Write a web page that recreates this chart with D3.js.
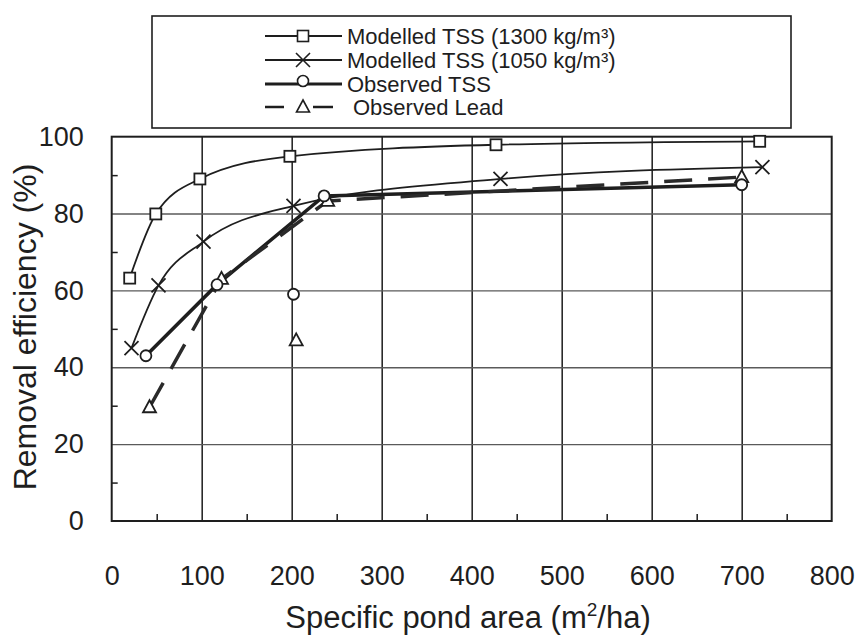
<!DOCTYPE html>
<html>
<head>
<meta charset="utf-8">
<script src="https://cdn.jsdelivr.net/npm/d3@7"></script>
<style>
    body { margin: 0; background: #fff; }
    svg { display: block; font-family: "Liberation Sans", Arial, sans-serif; }
</style>
</head>
<body>
<div id="chart"></div>
<script>
// Axis ticks
const xTicks = [0, 100, 200, 300, 400, 500, 600, 700, 800];
const yTicks = [0, 20, 40, 60, 80, 100];
const xMinor = [50, 150, 250, 350, 450, 550, 650, 750];
const yMinor = [10, 30, 50, 70, 90];

// Modelled TSS (1300 kg/m3)
const tss1300X = [20, 49, 98, 198, 427, 720];
const tss1300Y = [63.2, 79.9, 89, 94.9, 97.9, 98.8];

// Modelled TSS (1050 kg/m3)
const tss1050X = [22, 52, 102, 202, 432, 723];
const tss1050Y = [45, 61.3, 72.7, 82, 89, 92.1];

// Observed TSS
const obsTssX = [38, 117, 236, 700];
const obsTssY = [43, 61.5, 84.6, 87.5];

// Observed Lead
const obsLeadX = [42, 122, 240, 700];
const obsLeadY = [29.6, 63, 83.3, 89.5];

// loose observed points at 200 m2/ha (not joined)
const looseTss = [{ x: 202, y: 59 }];
const looseLead = [{ x: 205, y: 47 }];

const legendLabels = [
    'Modelled TSS (1300 kg/m³)',
    'Modelled TSS (1050 kg/m³)',
    'Observed TSS',
    'Observed Lead'
];

const zip = (xs, ys) => xs.map((v, i) => ({ x: v, y: ys[i] }));

function drawChart() {
    const width = 862, height = 639;
    const margin = { top: 136.7, right: 30.3, bottom: 118, left: 111.7 };
    const ink = '#1e1e1e';

    const svg = d3.select('#chart').append('svg')
        .attr('width', width)
        .attr('height', height);

    const x = d3.scaleLinear().domain([0, 800]).range([margin.left, width - margin.right]);
    const y = d3.scaleLinear().domain([0, 100]).range([height - margin.bottom, margin.top]);
    const plotH = y(0) - y(100);
    const plotW = x(800) - x(0);

    // vertical grid
    svg.append('g')
        .attr('transform', `translate(0,${y(0)})`)
        .call(d3.axisBottom(x).tickValues(xTicks.slice(1, -1)).tickSize(-plotH).tickFormat(''))
        .call(g => g.select('.domain').remove())
        .call(g => g.selectAll('line').attr('stroke', '#2a2a2a').attr('stroke-width', 1.6));

    // horizontal grid
    svg.append('g')
        .attr('transform', `translate(${x(0)},0)`)
        .call(d3.axisLeft(y).tickValues(yTicks.slice(1, -1)).tickSize(-plotW).tickFormat(''))
        .call(g => g.select('.domain').remove())
        .call(g => g.selectAll('line').attr('stroke', '#5a5a5a').attr('stroke-width', 1.4));

    // minor ticks, pointing inward
    svg.append('g')
        .attr('transform', `translate(0,${y(0)})`)
        .call(d3.axisBottom(x).tickValues(xMinor).tickSize(-7).tickFormat(''))
        .call(g => g.select('.domain').remove())
        .call(g => g.selectAll('line').attr('stroke', ink).attr('stroke-width', 1.5));

    svg.append('g')
        .attr('transform', `translate(${x(0)},0)`)
        .call(d3.axisLeft(y).tickValues(yMinor).tickSize(-6).tickFormat(''))
        .call(g => g.select('.domain').remove())
        .call(g => g.selectAll('line').attr('stroke', ink).attr('stroke-width', 1.5));

    // frame
    svg.append('rect')
        .attr('x', x(0)).attr('y', y(100))
        .attr('width', plotW).attr('height', plotH)
        .attr('fill', 'none').attr('stroke', ink).attr('stroke-width', 2);

    // tick labels
    svg.append('g')
        .attr('transform', `translate(0,${y(0)})`)
        .call(d3.axisBottom(x).tickValues(xTicks).tickSize(0).tickPadding(45))
        .call(g => g.select('.domain').remove())
        .call(g => g.selectAll('text').attr('font-size', 27).attr('fill', ink)
            .attr('font-family', '"Liberation Sans", Arial, sans-serif'));

    svg.append('g')
        .attr('transform', `translate(${x(0)},0)`)
        .call(d3.axisLeft(y).tickValues(yTicks).tickSize(0).tickPadding(28))
        .call(g => g.select('.domain').remove())
        .call(g => g.selectAll('text').attr('font-size', 27).attr('fill', ink)
            .attr('font-family', '"Liberation Sans", Arial, sans-serif'));

    // axis titles
    const xTitle = svg.append('text')
        .attr('x', 468).attr('y', 628)
        .attr('text-anchor', 'middle')
        .attr('font-size', 31).attr('fill', ink);
    xTitle.append('tspan').text('Specific pond area (m');
    xTitle.append('tspan').attr('font-size', 19).attr('dy', -12).text('2');
    xTitle.append('tspan').attr('dy', 12).text('/ha)');

    svg.append('text')
        .attr('transform', 'translate(36,327) rotate(-90)')
        .attr('text-anchor', 'middle')
        .attr('font-size', 32).attr('fill', ink)
        .text('Removal efficiency (%)');

    // series lines
    const smooth = d3.line().x(d => x(d.x)).y(d => y(d.y)).curve(d3.curveMonotoneX);
    const straight = d3.line().x(d => x(d.x)).y(d => y(d.y));

    const s1300 = zip(tss1300X, tss1300Y);
    const s1050 = zip(tss1050X, tss1050Y);
    const sTss = zip(obsTssX, obsTssY);
    const sLead = zip(obsLeadX, obsLeadY);

    svg.append('path').datum(s1300).attr('d', smooth)
        .attr('fill', 'none').attr('stroke', ink).attr('stroke-width', 1.8);
    svg.append('path').datum(s1050).attr('d', smooth)
        .attr('fill', 'none').attr('stroke', ink).attr('stroke-width', 1.8);
    svg.append('path').datum(sTss).attr('d', straight)
        .attr('fill', 'none').attr('stroke', ink).attr('stroke-width', 3.5);
    svg.append('path').datum(sLead).attr('d', straight)
        .attr('fill', 'none').attr('stroke', '#2a2a2a').attr('stroke-width', 3.5)
        .attr('stroke-dasharray', '28,16');

    // markers
    const marker = {
        square: (g, px, py) => g.append('rect').attr('x', px - 5.5).attr('y', py - 5.5)
            .attr('width', 11).attr('height', 11),
        cross: (g, px, py) => g.append('path')
            .attr('d', `M${px - 7},${py - 7}L${px + 7},${py + 7}M${px - 7},${py + 7}L${px + 7},${py - 7}`),
        circle: (g, px, py) => g.append('circle').attr('cx', px).attr('cy', py).attr('r', 5.5),
        triangle: (g, px, py) => g.append('path')
            .attr('d', `M${px},${py - 7}L${px + 6.5},${py + 5}L${px - 6.5},${py + 5}Z`)
    };

    function drawMarkers(data, kind) {
        const g = svg.append('g').attr('fill', '#fff').attr('stroke', ink).attr('stroke-width', 1.8);
        data.forEach(d => marker[kind](g, x(d.x), y(d.y)));
    }

    drawMarkers(s1300, 'square');
    drawMarkers(s1050, 'cross');
    drawMarkers(sLead, 'triangle');
    drawMarkers(looseLead, 'triangle');
    drawMarkers(sTss, 'circle');
    drawMarkers(looseTss, 'circle');

    // legend
    const legend = svg.append('g');
    legend.append('rect')
        .attr('x', 152).attr('y', 16).attr('width', 639).attr('height', 112)
        .attr('fill', 'none').attr('stroke', ink).attr('stroke-width', 1.6);

    const rows = [36, 60, 84, 107];
    const kinds = ['square', 'cross', 'circle', 'triangle'];
    legendLabels.forEach((label, i) => {
        const ry = rows[i];
        const g = legend.append('g');
        if (i === 3) {
            g.append('line').attr('x1', 265).attr('x2', 284).attr('y1', ry).attr('y2', ry)
                .attr('stroke', ink).attr('stroke-width', 2.5);
            g.append('line').attr('x1', 313).attr('x2', 333).attr('y1', ry).attr('y2', ry)
                .attr('stroke', ink).attr('stroke-width', 2.5);
        } else {
            g.append('line').attr('x1', 265).attr('x2', 342).attr('y1', ry).attr('y2', ry)
                .attr('stroke', ink).attr('stroke-width', i === 2 ? 3.2 : 1.8);
        }
        const mg = g.append('g').attr('fill', '#fff').attr('stroke', ink).attr('stroke-width', 1.6);
        marker[kinds[i]](mg, 303, i === 2 ? ry - 3 : ry);
        g.append('text')
            .attr('x', i === 3 ? 353 : 347).attr('y', ry + 8)
            .attr('font-size', 22).attr('fill', ink)
            .text(label);
    });
}

document.addEventListener('DOMContentLoaded', drawChart);
</script>
</body>
</html>
